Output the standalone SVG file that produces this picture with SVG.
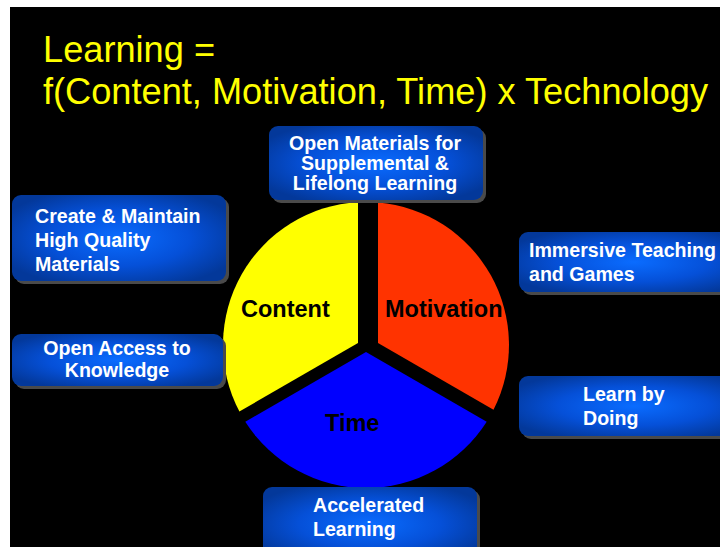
<svg xmlns="http://www.w3.org/2000/svg" width="720" height="547" viewBox="0 0 720 547">
<defs>
<radialGradient id="boxg" cx="0.5" cy="0.5" r="0.6">
<stop offset="0" stop-color="#0a6cff"/>
<stop offset="0.55" stop-color="#0550d8"/>
<stop offset="1" stop-color="#03389a"/>
</radialGradient>
<style>
.bg{fill:#000}
.title{font-family:"Liberation Sans",Arial,sans-serif;font-size:36.2px;fill:#ffff00}
.shadow{fill:#4a4a4a}
.box{fill:url(#boxg)}
.lbl{font-family:"Liberation Sans",Arial,sans-serif;font-size:19.6px;font-weight:bold;fill:#fff}
.pl{font-family:"Liberation Sans",Arial,sans-serif;font-size:23.5px;font-weight:bold;fill:#000}
</style>
</defs>
<rect x="0" y="0" width="720" height="547" fill="#fff"/>
<rect class="bg" x="10" y="7" width="710" height="540"/>
<g id="title">
<text class="title" x="43" y="62">Learning =</text>
<text class="title" x="43" y="104">f(Content, Motivation, Time) x Technology</text>
</g>
<g id="pie">
<g id="content">
<path d="M358,343 L358,202.2 A143,143 0 0 0 239.4,411.5 Z" fill="#ffff00"/>
<text class="pl" x="241" y="317">Content</text>
</g>
<g id="motivation">
<path d="M378,343 L378,202.5 A143,143 0 0 1 493.5,409.7 Z" fill="#ff3300"/>
<text class="pl" x="385" y="317">Motivation</text>
</g>
<g id="time">
<path d="M366,352 L486.7,421.7 A143,143 0 0 1 245.3,421.7 Z" fill="#0000ff"/>
<text class="pl" x="325" y="431">Time</text>
</g>
</g>
<g id="connectors"/>
<g id="open-materials">
<rect class="shadow" x="272" y="129" width="214" height="74" rx="9"/>
<rect class="box" x="269" y="126" width="214" height="74" rx="9"/>
<text class="lbl" text-anchor="middle" x="375" y="149.5">Open Materials for</text>
<text class="lbl" text-anchor="middle" x="375" y="169.5">Supplemental &amp;</text>
<text class="lbl" text-anchor="middle" x="375" y="190">Lifelong Learning</text>
</g>
<g id="create-maintain">
<rect class="shadow" x="15" y="198" width="214" height="86" rx="9"/>
<rect class="box" x="12" y="195" width="214" height="86" rx="9"/>
<text class="lbl" x="35" y="223">Create &amp; Maintain</text>
<text class="lbl" x="35" y="247">High Quality</text>
<text class="lbl" x="35" y="271">Materials</text>
</g>
<g id="open-access">
<rect class="shadow" x="15" y="337" width="211" height="52" rx="9"/>
<rect class="box" x="12" y="334" width="211" height="52" rx="9"/>
<text class="lbl" text-anchor="middle" x="117" y="355">Open Access to</text>
<text class="lbl" text-anchor="middle" x="117" y="376.5">Knowledge</text>
</g>
<g id="immersive">
<rect class="shadow" x="522" y="235" width="230" height="60" rx="9"/>
<rect class="box" x="519" y="232" width="230" height="60" rx="9"/>
<text class="lbl" x="529" y="257">Immersive Teaching</text>
<text class="lbl" x="529" y="281">and Games</text>
</g>
<g id="learn-by-doing">
<rect class="shadow" x="522" y="379" width="230" height="60" rx="9"/>
<rect class="box" x="519" y="376" width="230" height="60" rx="9"/>
<text class="lbl" x="583" y="401">Learn by</text>
<text class="lbl" x="583" y="425">Doing</text>
</g>
<g id="accelerated">
<rect class="shadow" x="266" y="490" width="214" height="74" rx="9"/>
<rect class="box" x="263" y="487" width="214" height="74" rx="9"/>
<text class="lbl" x="313" y="512">Accelerated</text>
<text class="lbl" x="313" y="536">Learning</text>
</g>
</svg>
